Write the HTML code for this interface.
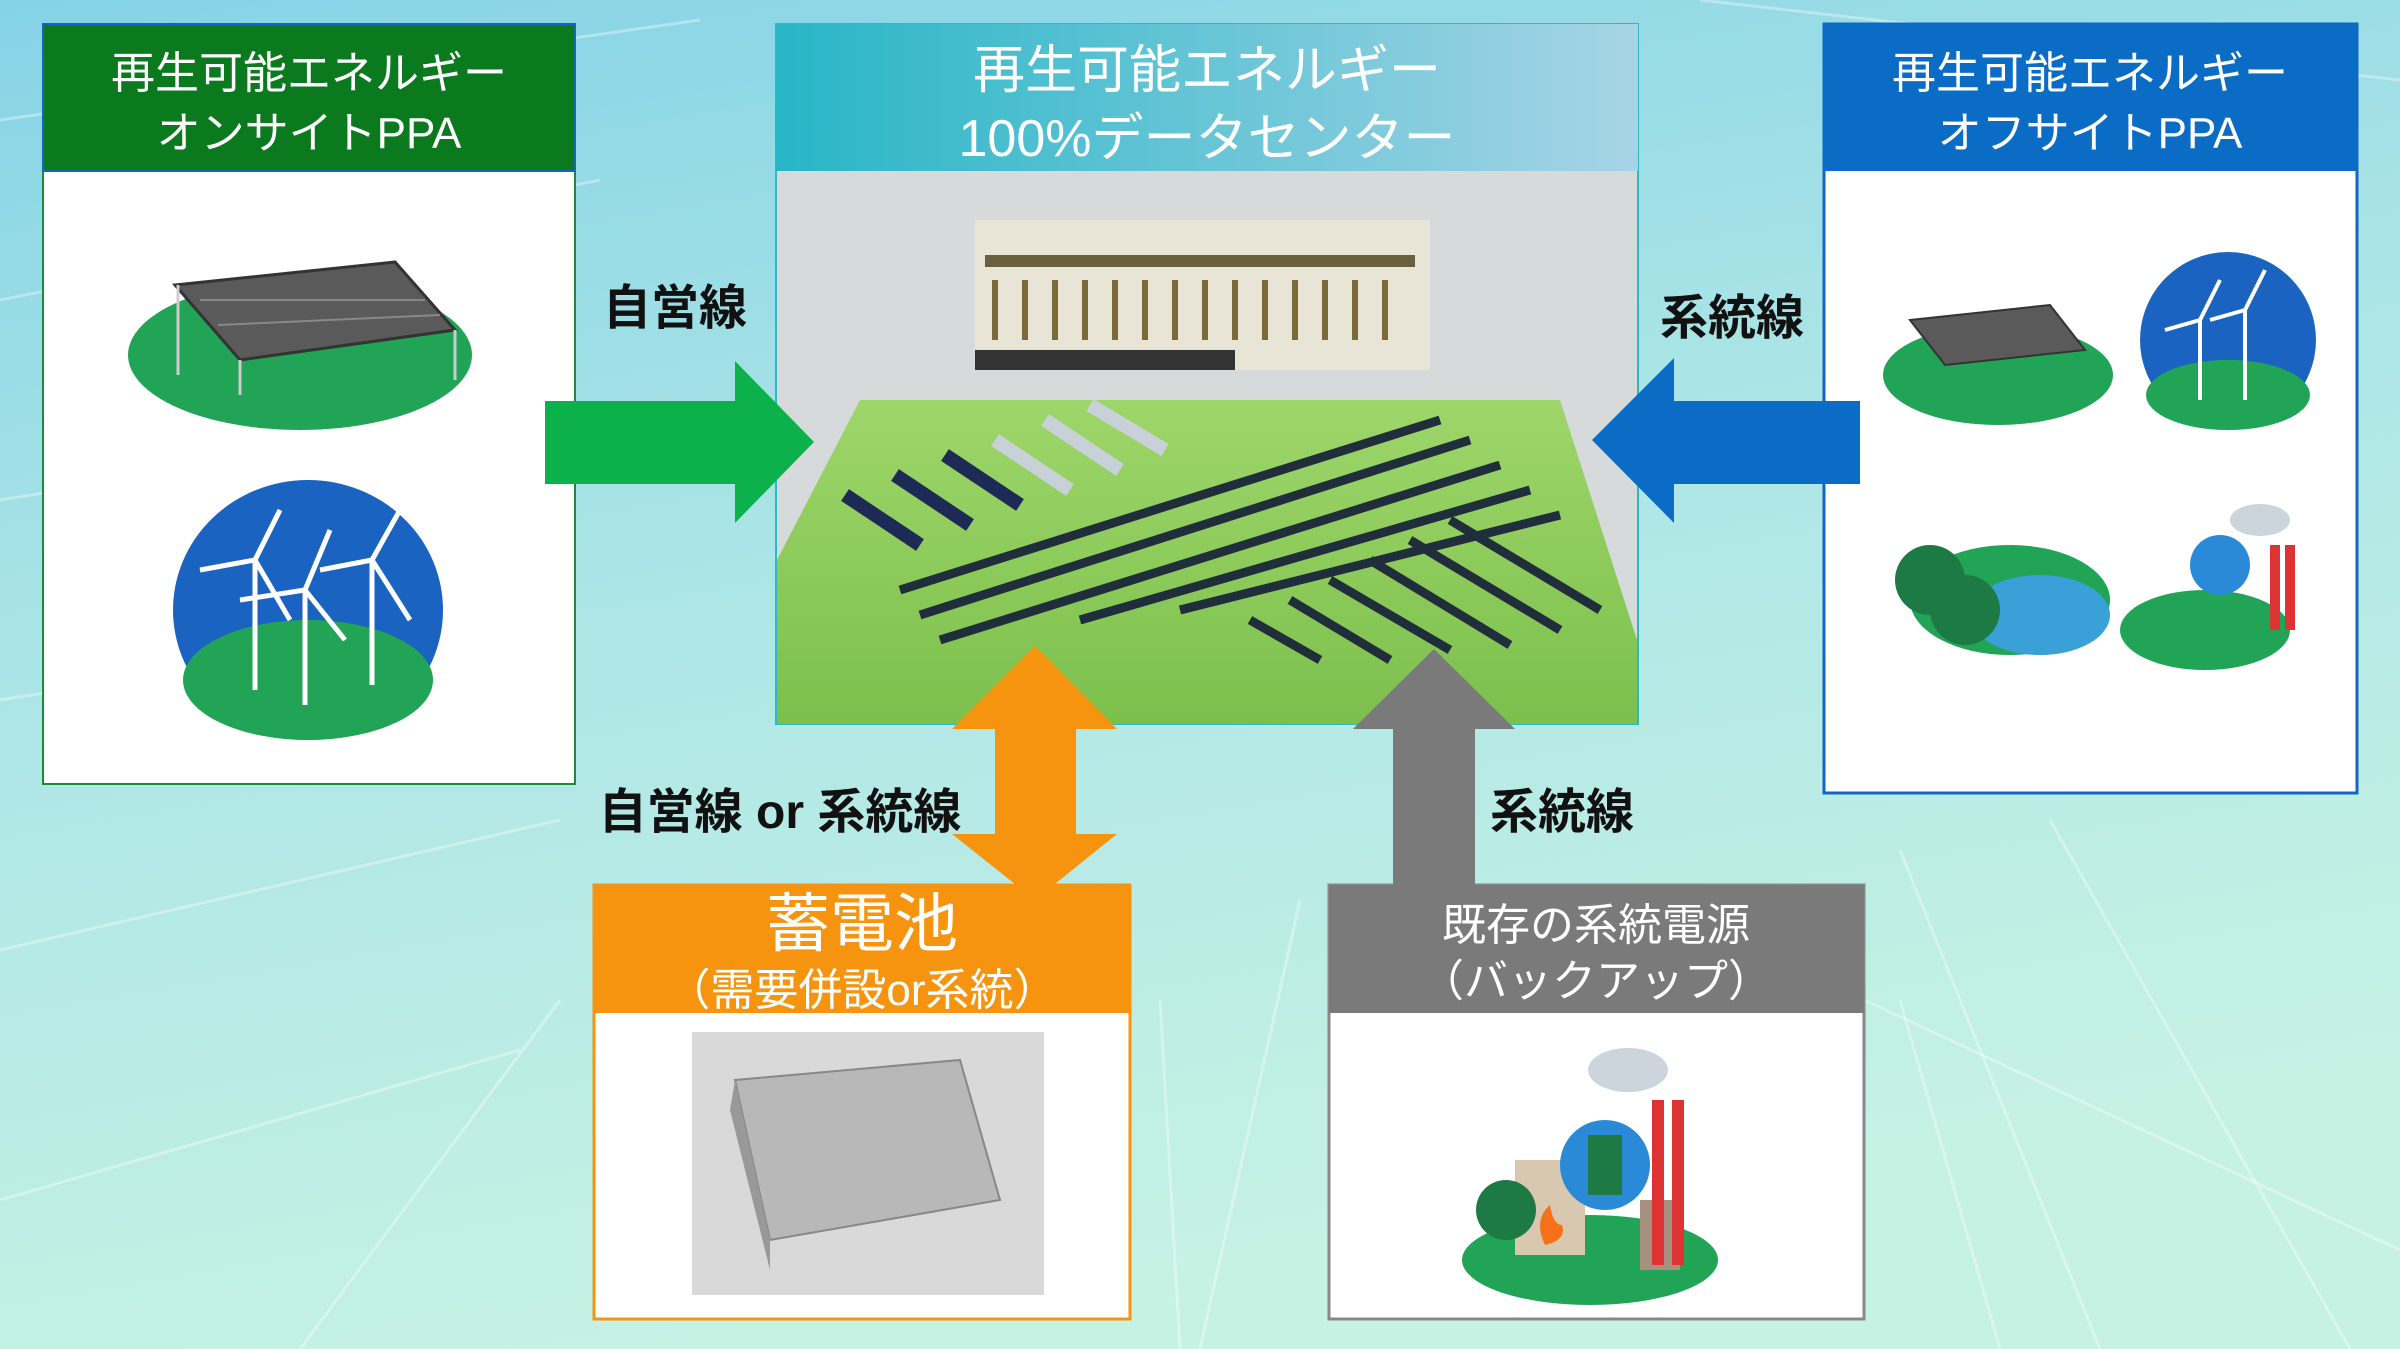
<!DOCTYPE html>
<html><head><meta charset="utf-8"><style>
html,body{margin:0;padding:0;width:2400px;height:1349px;overflow:hidden}
svg{display:block}
text{font-family:"Liberation Sans","Noto Sans CJK JP",sans-serif}
</style></head><body>
<svg width="2400" height="1349" viewBox="0 0 2400 1349" xmlns="http://www.w3.org/2000/svg">
<defs>
<linearGradient id="bg" x1="0" y1="0" x2="0.3" y2="1">
<stop offset="0" stop-color="#86d3e6"/><stop offset="0.5" stop-color="#aee6e6"/><stop offset="1" stop-color="#c6f2e4"/></linearGradient>
<linearGradient id="hd" x1="0" y1="0" x2="1" y2="0">
<stop offset="0" stop-color="#27b6c6"/><stop offset="1" stop-color="#a6d4e6"/></linearGradient>
<linearGradient id="fld" x1="0" y1="0" x2="0" y2="1">
<stop offset="0" stop-color="#9ed66a"/><stop offset="1" stop-color="#7cc04c"/></linearGradient>
</defs>
<rect width="2400" height="1349" fill="url(#bg)"/>
<g stroke="#ffffff" stroke-opacity="0.35" stroke-width="3">
<line x1="0" y1="120" x2="700" y2="20"/><line x1="0" y1="300" x2="600" y2="180"/><line x1="0" y1="500" x2="500" y2="420"/>
<line x1="0" y1="700" x2="500" y2="620"/><line x1="0" y1="950" x2="560" y2="820"/><line x1="0" y1="1200" x2="520" y2="1050"/>
<line x1="1700" y1="0" x2="2400" y2="80"/><line x1="1650" y1="900" x2="2400" y2="1250"/><line x1="1900" y1="850" x2="2100" y2="1349"/>
<line x1="2050" y1="820" x2="2350" y2="1349"/><line x1="1200" y1="1349" x2="1300" y2="900"/><line x1="300" y1="1349" x2="560" y2="1000"/>
<line x1="1900" y1="1000" x2="2000" y2="1349"/><line x1="1180" y1="1349" x2="1160" y2="1000"/>
</g>

<!-- Left box -->
<rect x="43" y="24" width="532" height="760" fill="#fff" stroke="#1c8a3a" stroke-width="2"/>
<rect x="43" y="24" width="532" height="147" fill="#0b7a1f" stroke="#1565c0" stroke-width="2"/>
<text x="309" y="88" font-size="44" fill="#fff" text-anchor="middle">再生可能エネルギー</text>
<text x="309" y="148" font-size="44" fill="#fff" text-anchor="middle">オンサイトPPA</text>
<ellipse cx="300" cy="355" rx="172" ry="75" fill="#21a456"/>
<polygon points="175,285 395,262 455,330 240,360" fill="#5a5a5a" stroke="#333" stroke-width="3"/>
<g stroke="#888" stroke-width="2"><line x1="200" y1="300" x2="425" y2="300"/><line x1="218" y1="325" x2="440" y2="315"/></g>
<g stroke="#ccc" stroke-width="3"><line x1="178" y1="285" x2="178" y2="375"/><line x1="240" y1="360" x2="240" y2="395"/><line x1="455" y1="330" x2="455" y2="380"/></g>
<ellipse cx="308" cy="610" rx="135" ry="130" fill="#1a63c0"/>
<ellipse cx="308" cy="680" rx="125" ry="60" fill="#21a456"/>
<g stroke="#fff" stroke-width="5" fill="none">
<line x1="255" y1="560" x2="255" y2="690"/><line x1="255" y1="560" x2="280" y2="510"/><line x1="255" y1="560" x2="200" y2="570"/><line x1="255" y1="560" x2="290" y2="620"/>
<line x1="305" y1="590" x2="305" y2="705"/><line x1="305" y1="590" x2="330" y2="530"/><line x1="305" y1="590" x2="240" y2="600"/><line x1="305" y1="590" x2="345" y2="640"/>
<line x1="372" y1="560" x2="372" y2="685"/><line x1="372" y1="560" x2="400" y2="510"/><line x1="372" y1="560" x2="320" y2="570"/><line x1="372" y1="560" x2="410" y2="620"/>
</g>

<!-- Center box -->
<rect x="776" y="24" width="862" height="700" fill="#dfe3e3" stroke="#2bb8c8" stroke-width="2"/>
<polygon points="777,171 1637,171 1637,724 777,724" fill="#d6dadb"/>
<polygon points="860,400 1560,400 1637,640 1637,724 777,724 777,560" fill="url(#fld)"/>
<rect x="975" y="220" width="455" height="150" fill="#e8e4d6"/>
<g fill="#6a6040"><rect x="985" y="255" width="430" height="12"/></g>
<g stroke="#7a6a3a" stroke-width="6"><line x1="995" y1="280" x2="995" y2="340"/><line x1="1025" y1="280" x2="1025" y2="340"/><line x1="1055" y1="280" x2="1055" y2="340"/><line x1="1085" y1="280" x2="1085" y2="340"/><line x1="1115" y1="280" x2="1115" y2="340"/><line x1="1145" y1="280" x2="1145" y2="340"/><line x1="1175" y1="280" x2="1175" y2="340"/><line x1="1205" y1="280" x2="1205" y2="340"/><line x1="1235" y1="280" x2="1235" y2="340"/><line x1="1265" y1="280" x2="1265" y2="340"/><line x1="1295" y1="280" x2="1295" y2="340"/><line x1="1325" y1="280" x2="1325" y2="340"/><line x1="1355" y1="280" x2="1355" y2="340"/><line x1="1385" y1="280" x2="1385" y2="340"/></g>
<rect x="975" y="350" width="260" height="20" fill="#333"/>
<g stroke="#1c2a55" stroke-width="14"><line x1="845" y1="495" x2="920" y2="545"/><line x1="895" y1="475" x2="970" y2="525"/><line x1="945" y1="455" x2="1020" y2="505"/></g>
<g stroke="#c8d0d8" stroke-width="14"><line x1="995" y1="440" x2="1070" y2="490"/><line x1="1045" y1="420" x2="1120" y2="470"/><line x1="1090" y1="405" x2="1165" y2="450"/></g>
<g stroke="#1f2e3a" stroke-width="9">
<line x1="900" y1="590" x2="1440" y2="420"/><line x1="920" y1="615" x2="1470" y2="440"/><line x1="940" y1="640" x2="1500" y2="465"/><line x1="1080" y1="620" x2="1530" y2="490"/><line x1="1180" y1="610" x2="1560" y2="515"/>
<line x1="1250" y1="620" x2="1320" y2="660"/><line x1="1290" y1="600" x2="1390" y2="660"/><line x1="1330" y1="580" x2="1450" y2="650"/><line x1="1370" y1="560" x2="1510" y2="645"/><line x1="1410" y1="540" x2="1560" y2="630"/><line x1="1450" y1="520" x2="1600" y2="610"/>
</g>
<rect x="776" y="24" width="862" height="147" fill="url(#hd)"/>
<text x="1207" y="88" font-size="52" fill="#fff" text-anchor="middle">再生可能エネルギー</text>
<text x="1207" y="156" font-size="52" fill="#fff" text-anchor="middle">100%データセンター</text>

<!-- Right box -->
<rect x="1824" y="24" width="533" height="769" fill="#fff" stroke="#1565c0" stroke-width="3"/>
<rect x="1824" y="24" width="533" height="147" fill="#0a6cc4"/>
<text x="2090" y="88" font-size="44" fill="#fff" text-anchor="middle">再生可能エネルギー</text>
<text x="2090" y="148" font-size="44" fill="#fff" text-anchor="middle">オフサイトPPA</text>
<ellipse cx="1998" cy="375" rx="115" ry="50" fill="#21a456"/>
<polygon points="1910,320 2050,305 2085,350 1945,365" fill="#5a5a5a" stroke="#333" stroke-width="2"/>
<circle cx="2228" cy="340" r="88" fill="#1a63c0"/>
<ellipse cx="2228" cy="395" rx="82" ry="35" fill="#21a456"/>
<g stroke="#fff" stroke-width="4"><line x1="2200" y1="320" x2="2200" y2="400"/><line x1="2200" y1="320" x2="2220" y2="280"/><line x1="2200" y1="320" x2="2165" y2="330"/><line x1="2245" y1="310" x2="2245" y2="400"/><line x1="2245" y1="310" x2="2265" y2="270"/><line x1="2245" y1="310" x2="2210" y2="320"/></g>
<ellipse cx="2010" cy="600" rx="100" ry="55" fill="#21a456"/>
<ellipse cx="2040" cy="615" rx="70" ry="40" fill="#3aa0d8"/>
<circle cx="1930" cy="580" r="35" fill="#1e7a44"/><circle cx="1965" cy="610" r="35" fill="#1e7a44"/>
<ellipse cx="2205" cy="630" rx="85" ry="40" fill="#21a456"/>
<circle cx="2220" cy="565" r="30" fill="#2a8ad8"/>
<rect x="2270" y="545" width="10" height="85" fill="#d33"/><rect x="2285" y="545" width="10" height="85" fill="#d33"/>
<ellipse cx="2260" cy="520" rx="30" ry="16" fill="#ccd4dc"/>

<!-- Battery box -->
<rect x="594" y="885" width="536" height="434" fill="#fff" stroke="#f7940f" stroke-width="3"/>
<rect x="692" y="1032" width="352" height="263" fill="#d9d9d9"/>
<polygon points="735,1080 960,1060 1000,1200 770,1240" fill="#b8b8b8" stroke="#888" stroke-width="2"/>
<polygon points="735,1080 770,1240 770,1270 730,1110" fill="#999"/>

<!-- Grid box -->
<rect x="1329" y="885" width="535" height="434" fill="#fff" stroke="#888" stroke-width="3"/>
<rect x="1329" y="885" width="535" height="128" fill="#7a7a7a"/>
<text x="1596" y="940" font-size="44" fill="#fff" text-anchor="middle">既存の系統電源</text>
<text x="1596" y="996" font-size="44" fill="#fff" text-anchor="middle">（バックアップ）</text>
<ellipse cx="1590" cy="1260" rx="128" ry="45" fill="#21a456"/>
<rect x="1515" y="1160" width="70" height="95" fill="#d8c8b0"/>
<circle cx="1506" cy="1210" r="30" fill="#1e7a44"/>
<circle cx="1605" cy="1165" r="45" fill="#2a8ad8"/>
<rect x="1588" y="1135" width="34" height="60" fill="#1e7a44"/>
<rect x="1640" y="1200" width="40" height="70" fill="#a89080"/>
<rect x="1652" y="1100" width="12" height="165" fill="#d33"/><rect x="1672" y="1100" width="12" height="165" fill="#d33"/>
<ellipse cx="1628" cy="1070" rx="40" ry="22" fill="#ccd4dc"/>
<path d="M1545,1245 q-12,-25 5,-40 q3,20 12,20 q5,15 -17,20z" fill="#f7701a"/>

<!-- Arrows -->
<polygon points="545,401 735,401 735,361 814,442 735,523 735,484 545,484" fill="#0db14b"/>
<polygon points="1860,401 1674,401 1674,358 1592,440 1674,523 1674,484 1860,484" fill="#0a6cc4"/>
<polygon points="1035,646 1117,729 1076,729 1076,834 1117,834 1035,900 952,834 995,834 995,729 952,729" fill="#f7940f"/>
<polygon points="1434,649 1515,729 1475,729 1475,885 1393,885 1393,729 1353,729" fill="#7a7a7a"/>
<rect x="594" y="885" width="536" height="128" fill="#f7940f"/>
<text x="862" y="946" font-size="64" fill="#fff" text-anchor="middle">蓄電池</text>
<text x="862" y="1005" font-size="44" fill="#fff" text-anchor="middle">（需要併設or系統）</text>

<!-- Labels -->
<text x="675" y="324" font-size="48" font-weight="bold" fill="#111" text-anchor="middle">自営線</text>
<text x="1732" y="334" font-size="48" font-weight="bold" fill="#111" text-anchor="middle">系統線</text>
<text x="780" y="828" font-size="48" font-weight="bold" fill="#111" text-anchor="middle">自営線 or 系統線</text>
<text x="1562" y="828" font-size="48" font-weight="bold" fill="#111" text-anchor="middle">系統線</text>
</svg>
</body></html>
